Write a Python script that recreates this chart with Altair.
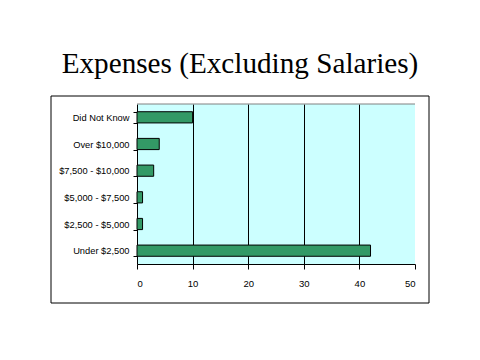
import altair as alt
import pandas as pd

categories = ["Did Not Know", "Over $10,000", "$7,500 - $10,000", "$5,000 - $7,500", "$2,500 - $5,000", "Under $2,500"]
values = [10, 4, 3, 1, 1, 42]
x_ticks = [0, 10, 20, 30, 40, 50]
title_text = "Expenses (Excluding Salaries)"

df = pd.DataFrame({"cat": categories, "val": values})

W, H = 278, 160

bars = alt.Chart(df).mark_bar(color="#339966", stroke="black", strokeWidth=1).encode(
    y=alt.Y("cat:N", sort=categories, title=None,
            scale=alt.Scale(paddingInner=0.58, paddingOuter=0.29),
            axis=alt.Axis(tickBand="extent", domainColor="black", tickColor="black",
                          tickSize=4, labelPadding=4, labelFontSize=9.3,
                          labelFont="Liberation Sans", labelColor="black", grid=False)),
    x=alt.X("val:Q", title=None, scale=alt.Scale(domain=[0, 50], nice=False),
            axis=alt.Axis(values=x_ticks, grid=True, gridColor="black",
                          gridOpacity={"condition": {"test": "datum.value === 50 || datum.value === 0", "value": 0}, "value": 1},
                          domainColor="black", tickColor="black", tickSize=5,
                          labelPadding=9, labelFontSize=9.5, labelFont="Liberation Sans",
                          labelColor="black")),
)

top_line = alt.Chart(pd.DataFrame({"a": [0]})).mark_rule(color="#808080").encode(
    x=alt.value(0), x2=alt.value(W), y=alt.value(0)
)

frame = alt.Chart(pd.DataFrame({"a": [0]})).mark_rect(fill=None, stroke="black", strokeWidth=1).encode(
    x=alt.value(-86), x2=alt.value(292), y=alt.value(-8), y2=alt.value(199)
)

title = alt.Chart(pd.DataFrame({"t": [title_text]})).mark_text(
    font="Liberation Serif", fontSize=29.2, color="black", align="center", baseline="alphabetic"
).encode(text="t:N", x=alt.value(103), y=alt.value(-31))

chart = alt.layer(frame, top_line, bars, title).properties(
    width=W, height=H,
    autosize=alt.AutoSizeParams(type="none"),
    padding={"left": 129, "top": 96, "right": 57, "bottom": 88},
    background="white",
).configure_view(fill="#CCFFFF", stroke=None)

chart.save("out.html", embed_options={"renderer": "svg", "actions": False})
